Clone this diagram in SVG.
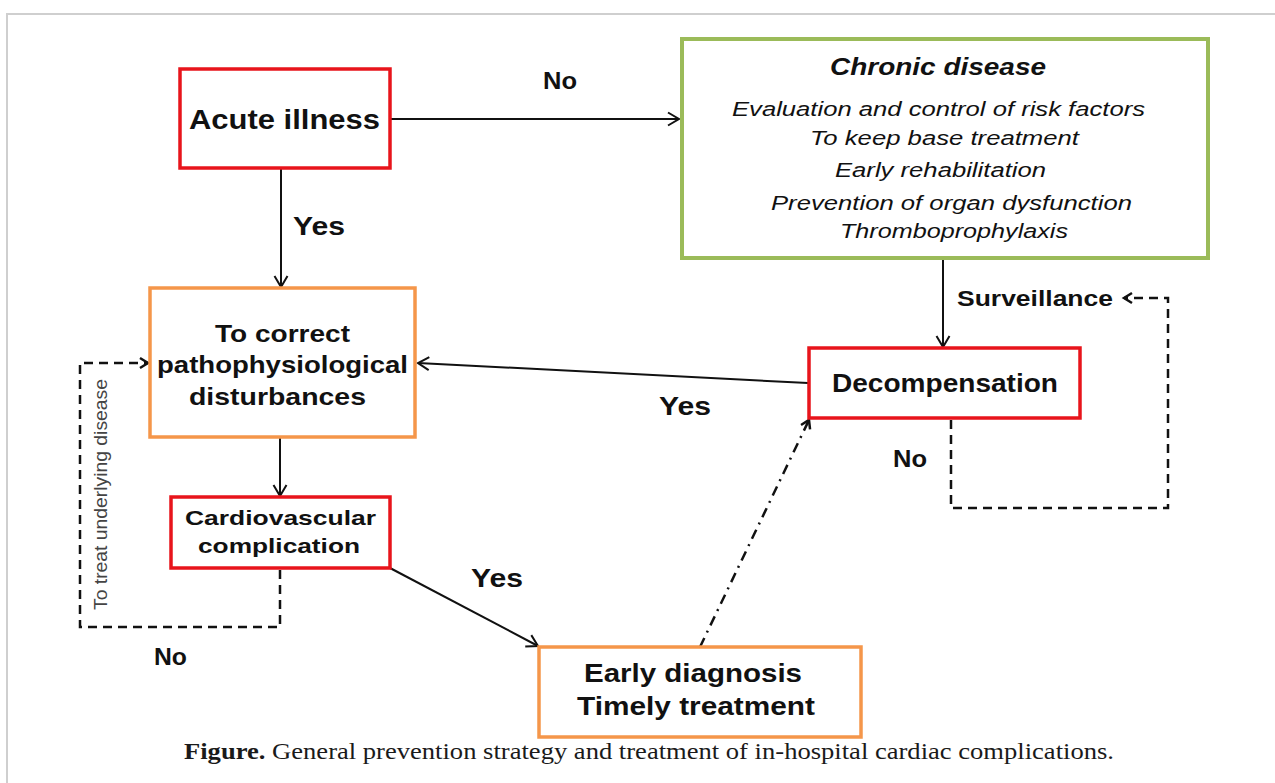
<svg xmlns="http://www.w3.org/2000/svg" width="1275" height="783" viewBox="0 0 1275 783">
<defs>
<style>
.bx{fill:#fff;stroke-width:3.5}
.red{stroke:#E8141B}
.org{stroke:#F5964A}
.grn{stroke:#9BBB59;stroke-width:4}
.t{font-family:"Liberation Sans",Arial,sans-serif;font-weight:bold;fill:#111}
.it{font-family:"Liberation Sans",Arial,sans-serif;font-style:italic;fill:#111}
.c{fill:none;stroke:#111;stroke-width:2}
.d{fill:none;stroke:#111;stroke-width:2.5;stroke-dasharray:9,6}
.dd{fill:none;stroke:#111;stroke-width:2.5;stroke-dasharray:10,6,2,6}
</style>
<marker id="ah" markerUnits="userSpaceOnUse" markerWidth="16" markerHeight="16" refX="12" refY="7" orient="auto" overflow="visible">
<path d="M1,0.5 L12,7 L1,13.5" fill="none" stroke="#111" stroke-width="2"/>
</marker>
<marker id="ahs" markerUnits="userSpaceOnUse" markerWidth="14" markerHeight="14" refX="9" refY="5.5" orient="auto" overflow="visible">
<path d="M1,0.5 L9,5.5 L1,10.5" fill="none" stroke="#111" stroke-width="2.5"/>
</marker>
</defs>
<rect x="0" y="0" width="1275" height="783" fill="#fff"/>
<path d="M7,783 V14 H1275" fill="none" stroke="#cfcfcf" stroke-width="2"/>

<g id="connectors">
<line class="c" x1="391" y1="119" x2="679" y2="119" marker-end="url(#ah)"/>
<line class="c" x1="281" y1="168" x2="281" y2="287" marker-end="url(#ah)"/>
<line class="c" x1="280" y1="437" x2="280" y2="496" marker-end="url(#ah)"/>
<line class="c" x1="943" y1="258" x2="943" y2="347" marker-end="url(#ah)"/>
<line class="c" x1="808" y1="383" x2="418" y2="363" marker-end="url(#ah)"/>
<line class="c" x1="390" y1="568" x2="538" y2="646" marker-end="url(#ah)"/>
<line class="dd" x1="700" y1="647" x2="809" y2="420" marker-end="url(#ahs)"/>
<path class="d" d="M951,420 V508 H1168 V298 H1124" marker-end="url(#ahs)"/>
<path class="d" d="M280,570 V627 H80 V363 H148" marker-end="url(#ahs)"/>
<text class="t" x="543" y="89" font-size="24" textLength="34" lengthAdjust="spacingAndGlyphs">No</text>
<text class="t" x="293" y="235" font-size="25" textLength="52" lengthAdjust="spacingAndGlyphs">Yes</text>
<text class="t" x="659" y="415" font-size="25" textLength="52" lengthAdjust="spacingAndGlyphs">Yes</text>
<text class="t" x="471" y="587" font-size="25" textLength="52" lengthAdjust="spacingAndGlyphs">Yes</text>
<text class="t" x="957" y="306" font-size="22.5" textLength="156" lengthAdjust="spacingAndGlyphs">Surveillance</text>
<text class="t" x="893" y="467" font-size="24" textLength="34" lengthAdjust="spacingAndGlyphs">No</text>
<text class="t" x="154" y="665" font-size="24" textLength="33" lengthAdjust="spacingAndGlyphs">No</text>
<text font-family="Liberation Sans, Arial, sans-serif" font-size="19" fill="#444" transform="translate(107,610) rotate(-90)" x="0" y="0" textLength="231" lengthAdjust="spacingAndGlyphs">To treat underlying disease</text>
</g>

<g id="acute">
<rect class="bx red" x="180" y="69" width="210" height="99"/>
<text class="t" x="189" y="129" font-size="27" textLength="191" lengthAdjust="spacingAndGlyphs">Acute illness</text>
</g>

<g id="chronic">
<rect class="bx grn" x="682" y="39" width="526" height="219"/>
<text class="it" x="830" y="75" font-size="24" font-weight="bold" textLength="216" lengthAdjust="spacingAndGlyphs">Chronic disease</text>
<text class="it" x="732" y="116" font-size="20" textLength="413" lengthAdjust="spacingAndGlyphs">Evaluation and control of risk factors</text>
<text class="it" x="810" y="145" font-size="20" textLength="269" lengthAdjust="spacingAndGlyphs">To keep base treatment</text>
<text class="it" x="835" y="177" font-size="20" textLength="211" lengthAdjust="spacingAndGlyphs">Early rehabilitation</text>
<text class="it" x="771" y="210" font-size="20" textLength="361" lengthAdjust="spacingAndGlyphs">Prevention of organ dysfunction</text>
<text class="it" x="840" y="238" font-size="20" textLength="228" lengthAdjust="spacingAndGlyphs">Thromboprophylaxis</text>
</g>

<g id="correct">
<rect class="bx org" x="150" y="288" width="265" height="149"/>
<text class="t" x="215" y="342" font-size="24" textLength="135" lengthAdjust="spacingAndGlyphs">To correct</text>
<text class="t" x="157" y="373" font-size="24" textLength="251" lengthAdjust="spacingAndGlyphs">pathophysiological</text>
<text class="t" x="189" y="405" font-size="24" textLength="177" lengthAdjust="spacingAndGlyphs">disturbances</text>
</g>

<g id="decompensation">
<rect class="bx red" x="809" y="348" width="271" height="70"/>
<text class="t" x="832" y="392" font-size="25" textLength="226" lengthAdjust="spacingAndGlyphs">Decompensation</text>
</g>

<g id="cardio">
<rect class="bx red" x="171" y="497" width="219" height="71"/>
<text class="t" x="185" y="525" font-size="21" textLength="191" lengthAdjust="spacingAndGlyphs">Cardiovascular</text>
<text class="t" x="198" y="553" font-size="21" textLength="162" lengthAdjust="spacingAndGlyphs">complication</text>
</g>

<g id="early">
<rect class="bx org" x="539" y="647" width="322" height="90"/>
<text class="t" x="584" y="682" font-size="26" textLength="218" lengthAdjust="spacingAndGlyphs">Early diagnosis</text>
<text class="t" x="577" y="715" font-size="26" textLength="238" lengthAdjust="spacingAndGlyphs">Timely treatment</text>
</g>

<text x="184" y="759" font-family="Liberation Serif, Times New Roman, serif" font-size="23" fill="#1a1a1a" textLength="930" lengthAdjust="spacingAndGlyphs"><tspan font-weight="bold">Figure.</tspan> General prevention strategy and treatment of in-hospital cardiac complications.</text>
</svg>
